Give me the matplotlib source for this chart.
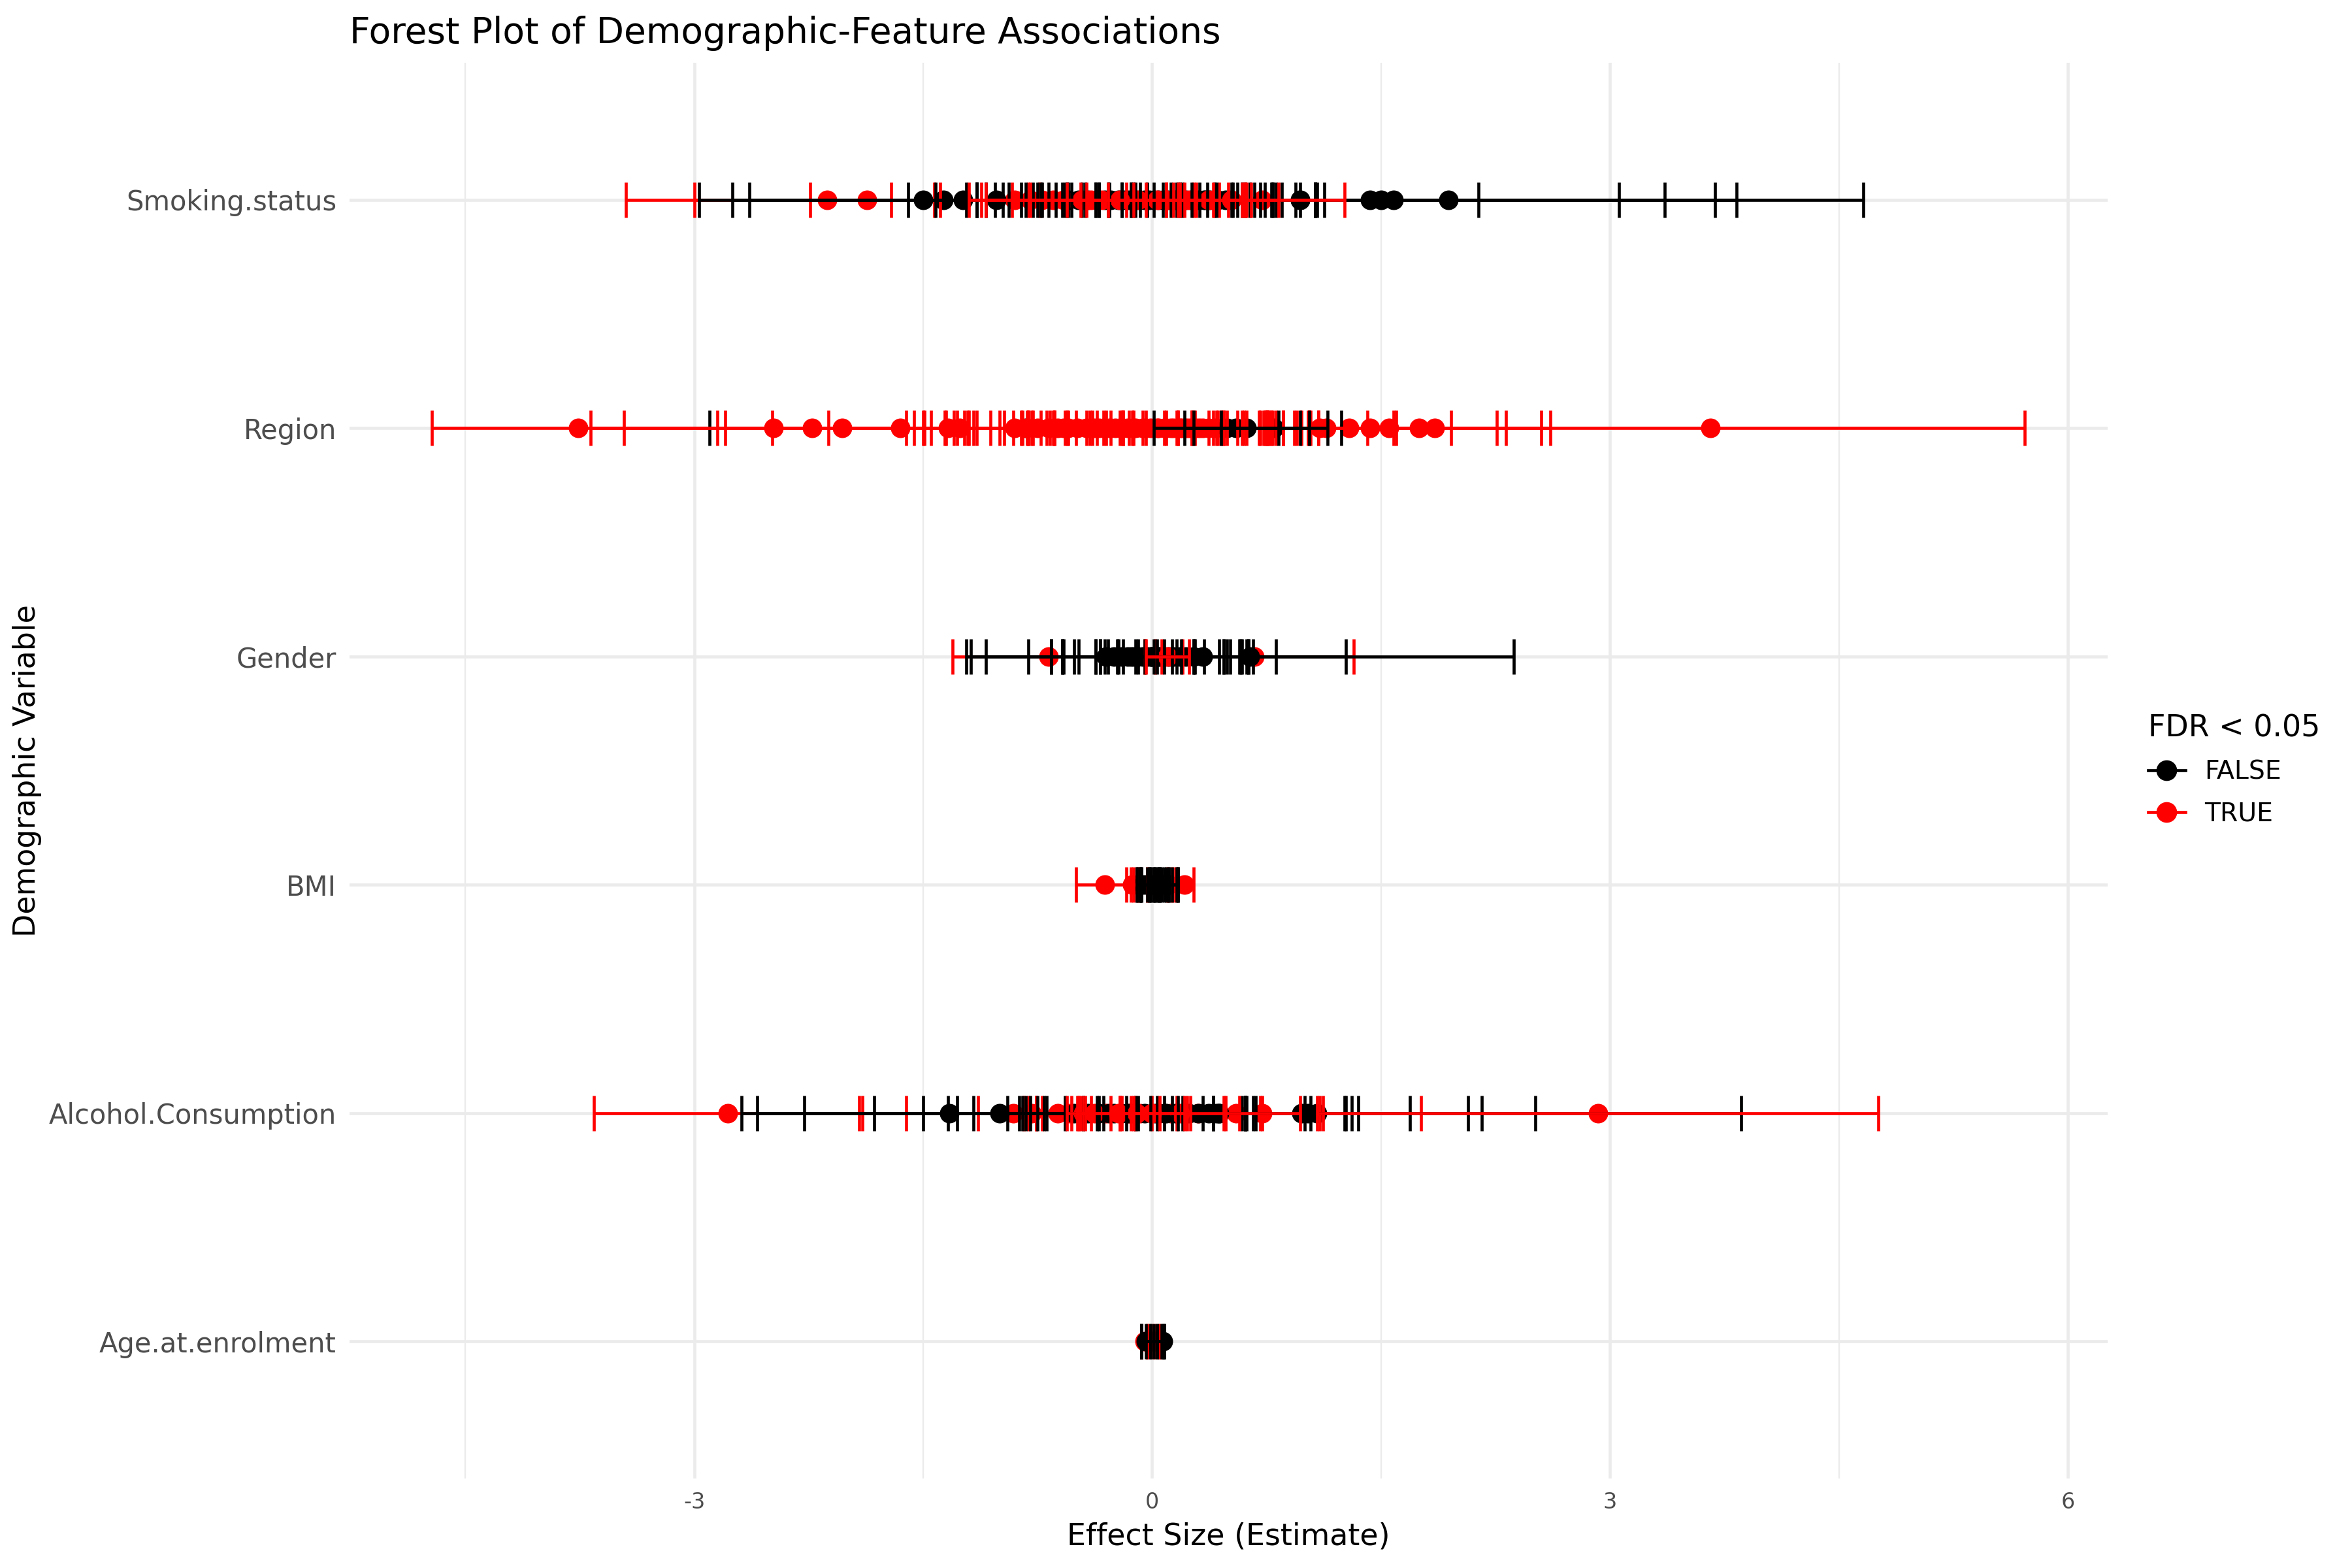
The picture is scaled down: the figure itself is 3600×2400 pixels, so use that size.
import matplotlib.pyplot as plt
from matplotlib.lines import Line2D

plt.rcParams["font.family"] = ["DejaVu Sans"]
plt.rcParams["axes.unicode_minus"] = False

categories = ["Age.at.enrolment", "Alcohol.Consumption", "BMI", "Gender", "Region", "Smoking.status"]

# estimate, CI half-width, FDR < 0.05 flag for each feature association
age_est = [-0.05, 0.01, 0.03, 0.07, 0.00, -0.02, 0.02, 0.04, -0.04, 0.01]
age_hw = [0.02, 0.04, 0.02, 0.01, 0.07, 0.05, 0.06, 0.03, 0.03, 0.02]
age_sig = [1, 1, 1, 0, 0, 0, 0, 0, 0, 0]

alc_est = [-2.78, -0.08, -0.91, -0.79, -0.54, -1.33, -1.00, -0.51, 1.02, 0.44,
           -0.45, -0.30, -0.15, 0.05, 0.30, -0.62, 0.12, 0.20, 0.55,
           -0.25, -0.15, 0.09, 0.42, 0.24, 0.16, 0.98, 1.08,
           -0.42, -0.35, -0.28, -0.20, -0.12, -0.05, 0.02, 0.08, 0.15, 0.22, 0.30, 0.37, 0.44,
           -0.38, -0.22, -0.10, 0.00, 0.18, 0.72, 2.92]
alc_hw = [0.88, 1.84, 0.70, 0.35, 0.27, 1.36, 1.59, 1.77, 2.84, 1.72,
          0.31, 0.46, 0.38, 0.52, 0.41, 0.22, 0.60, 0.92, 0.55,
          1.25, 1.19, 1.26, 1.27, 1.07, 1.11, 1.09, 1.43,
          0.33, 0.52, 0.41, 0.60, 0.45, 0.66, 0.38, 0.53, 0.47, 0.39, 0.31, 0.29, 0.24,
          0.18, 0.27, 0.35, 0.21, 0.30, 0.25, 1.84]
alc_sig = [1, 1, 1, 1, 1, 0, 0, 0, 0, 0,
           1, 1, 1, 1, 1, 1, 1, 1, 1,
           0, 0, 0, 0, 0, 0, 0, 0,
           0, 0, 0, 0, 0, 0, 0, 0, 0, 0, 0, 0, 0,
           1, 1, 1, 1, 1, 1, 1]

bmi_est = [-0.31, -0.13, -0.02, 0.05, 0.21,
           -0.06, -0.04, -0.02, 0.00, 0.02, 0.04, 0.06, 0.08, 0.10, 0.03, -0.01, 0.05, 0.11]
bmi_hw = [0.19, 0.04, 0.12, 0.08, 0.06,
          0.04, 0.06, 0.05, 0.08, 0.03, 0.07, 0.05, 0.09, 0.06, 0.10, 0.07, 0.04, 0.06]
bmi_sig = [1, 1, 1, 1, 1, 0, 0, 0, 0, 0, 0, 0, 0, 0, 0, 0, 0, 0]

gen_est = [-0.68, 0.67, 0.13, 0.64, -0.30, 0.04, 0.00,
           -0.25, -0.20, -0.16, -0.12, -0.09, -0.06, -0.03, 0.00, 0.02, 0.05,
           0.08, 0.11, 0.14, 0.18, 0.22, 0.27, 0.33, -0.14, 0.07, -0.01, 0.10]
gen_hw = [0.63, 0.65, 0.07, 1.73, 0.92, 1.23, 0.81,
          0.41, 0.28, 0.35, 0.46, 0.22, 0.53, 0.31, 0.66, 0.25, 0.39,
          0.19, 0.48, 0.33, 0.40, 0.27, 0.36, 0.30, 0.15, 0.44, 0.58, 0.14]
gen_sig = [1, 1, 1, 0, 0, 0, 0,
           0, 0, 0, 0, 0, 0, 0, 0, 0, 0,
           0, 0, 0, 0, 0, 0, 0, 0, 0, 0, 1]

reg_est = [-0.83, -3.76, -2.48, -2.23, -2.03, -1.65, -1.34, -1.26, 3.66,
           1.85, 1.75, 1.55, 1.43, 1.29, 1.14, 1.10,
           -0.90, -0.82, -0.75, -0.68,
           -0.62, -0.55, -0.49, -0.43, -0.38, -0.32, -0.27, -0.21, -0.16, -0.11, -0.06, -0.01,
           0.04, 0.09, 0.14, 0.19, 0.25, 0.31, 0.37, -0.35, -0.58, 0.21, -0.24,
           -0.28, -0.19, -0.12, -0.04, 0.03, 0.08, 0.12, 0.18, 0.23, 0.29, 0.33, 0.41, 0.46,
           0.55, 0.62, 0.49, 0.80]
reg_hw = [2.07, 0.96, 1.20, 1.23, 0.82, 0.84, 0.78, 0.35, 2.06,
          0.76, 0.80, 0.77, 0.83, 0.67, 0.44, 0.31,
          0.60, 0.67, 0.55, 0.49,
          0.58, 0.81, 0.66, 0.92, 0.47, 0.74, 0.55, 1.02, 0.63, 0.86, 0.51, 0.77,
          0.69, 0.95, 0.57, 0.83, 0.61, 0.72, 0.49, 1.10, 0.98, 0.88, 0.40,
          0.45, 0.62, 0.38, 0.51, 0.72, 0.29, 0.44, 0.57, 0.36, 0.48, 0.60, 0.33, 0.52,
          0.28, 0.41, 0.48, 0.35]
reg_sig = [0, 1, 1, 1, 1, 1, 1, 1, 1,
           1, 1, 1, 1, 1, 1, 1,
           1, 1, 1, 1,
           1, 1, 1, 1, 1, 1, 1, 1, 1, 1, 1, 1,
           1, 1, 1, 1, 1, 1, 1, 1, 1, 1, 1,
           1, 1, 1, 1, 1, 1, 1, 1, 1, 1, 1, 1, 1,
           0, 0, 0, 0]

smk_est = [-2.13, -1.87, -0.90, -0.72, -0.80, -0.65,
           -1.50, -1.37, -1.24, -1.02, 1.94, 1.58, 1.50, 1.43, 0.97, 0.97,
           -0.55, -0.48, -0.42, -0.36, -0.31, -0.27, -0.22, -0.18, -0.15, -0.11,
           -0.08, -0.05, -0.02, 0.01, 0.04, 0.07, 0.10, 0.13, 0.16, 0.19,
           0.22, 0.26, 0.30, 0.34, 0.38, 0.43, 0.48, 0.35, 0.28, -0.12,
           -0.58, -0.46, -0.33, -0.21, -0.09, 0.03, 0.15, 0.24, 0.37, 0.52, -0.40, 0.09, 0.72]
smk_hw = [1.32, 1.13, 1.34, 0.99, 0.63, 0.74,
          1.47, 1.38, 1.40, 0.58, 2.72, 2.11, 2.33, 1.63, 2.39, 1.17,
          0.67, 0.55, 0.73, 0.62, 0.84, 0.45, 0.93, 0.38, 0.71, 0.52,
          0.86, 0.41, 0.66, 0.58, 0.77, 0.35, 0.69, 0.48, 0.91, 0.33,
          0.57, 0.81, 0.44, 0.63, 0.75, 0.51, 0.60, 0.72, 0.39, 0.97,
          0.54, 0.63, 0.47, 0.71, 0.38, 0.59, 0.44, 0.36, 0.28, 0.31, 0.80, 0.52, 0.54]
smk_sig = [1, 1, 1, 1, 1, 1,
           0, 0, 0, 0, 0, 0, 0, 0, 0, 0,
           0, 0, 0, 0, 0, 0, 0, 0, 0, 0,
           0, 0, 0, 0, 0, 0, 0, 0, 0, 0,
           0, 0, 0, 0, 0, 0, 0, 0, 0, 0,
           1, 1, 1, 1, 1, 1, 1, 1, 1, 1, 1, 1, 1]

rows = [
    (age_est, age_hw, age_sig),
    (alc_est, alc_hw, alc_sig),
    (bmi_est, bmi_hw, bmi_sig),
    (gen_est, gen_hw, gen_sig),
    (reg_est, reg_hw, reg_sig),
    (smk_est, smk_hw, smk_sig),
]

COLORS = {0: "black", 1: "red"}
GRID = "#EBEBEB"

fig = plt.figure(figsize=(15, 10), dpi=240)
ax = fig.add_axes([0.1486, 0.057, 0.7474, 0.903])

# points first, error bars on top (same layer order as the original)
for y, (est, hw, sig) in enumerate(rows, start=1):
    for e, s in zip(est, sig):
        ax.plot(e, y, "o", color=COLORS[s], ms=9, mew=0, zorder=3)

for y, (est, hw, sig) in enumerate(rows, start=1):
    for e, h, s in zip(est, hw, sig):
        ax.errorbar(e, y, xerr=h, fmt="none", ecolor=COLORS[s],
                    elinewidth=1.4, capsize=8, capthick=1.4, zorder=4)

ax.set_xlim(-5.26, 6.26)
ax.set_ylim(0.4, 6.6)
ax.set_xticks([-3, 0, 3, 6])
ax.set_xticks([-4.5, -1.5, 1.5, 4.5], minor=True)
ax.set_yticks(range(1, len(categories) + 1))
ax.set_yticklabels(categories)

ax.grid(True, which="major", color=GRID, lw=1.4, zorder=0)
ax.grid(True, which="minor", axis="x", color=GRID, lw=0.7, zorder=0)
ax.set_axisbelow(True)
for sp in ax.spines.values():
    sp.set_visible(False)
ax.tick_params(which="both", length=0)
ax.tick_params(axis="y", labelsize=12.5, labelcolor="#4D4D4D", pad=6)
ax.tick_params(axis="x", labelsize=10, labelcolor="#4D4D4D", pad=6)

ax.set_xlabel("Effect Size (Estimate)", fontsize=13.75, labelpad=4)
fig.text(0.0115, 0.5085, "Demographic Variable", rotation=90, fontsize=13.75,
         ha="center", va="center")
ax.set_title("Forest Plot of Demographic-Feature Associations", loc="left",
             fontsize=16.5, pad=9)

handles = [Line2D([], [], color=COLORS[k], marker="o", ms=9.5, lw=1.4, mew=0)
           for k in (0, 1)]
leg = fig.legend(handles, ["FALSE", "TRUE"], title="FDR < 0.05",
                 loc="upper left", bbox_to_anchor=(0.9045, 0.558), frameon=False,
                 fontsize=11.8, title_fontsize=13.75, handlelength=1.45,
                 handletextpad=0.75, labelspacing=0.65, borderpad=0.3)
leg._legend_box.align = "left"

fig.savefig("out.png", dpi=240)
